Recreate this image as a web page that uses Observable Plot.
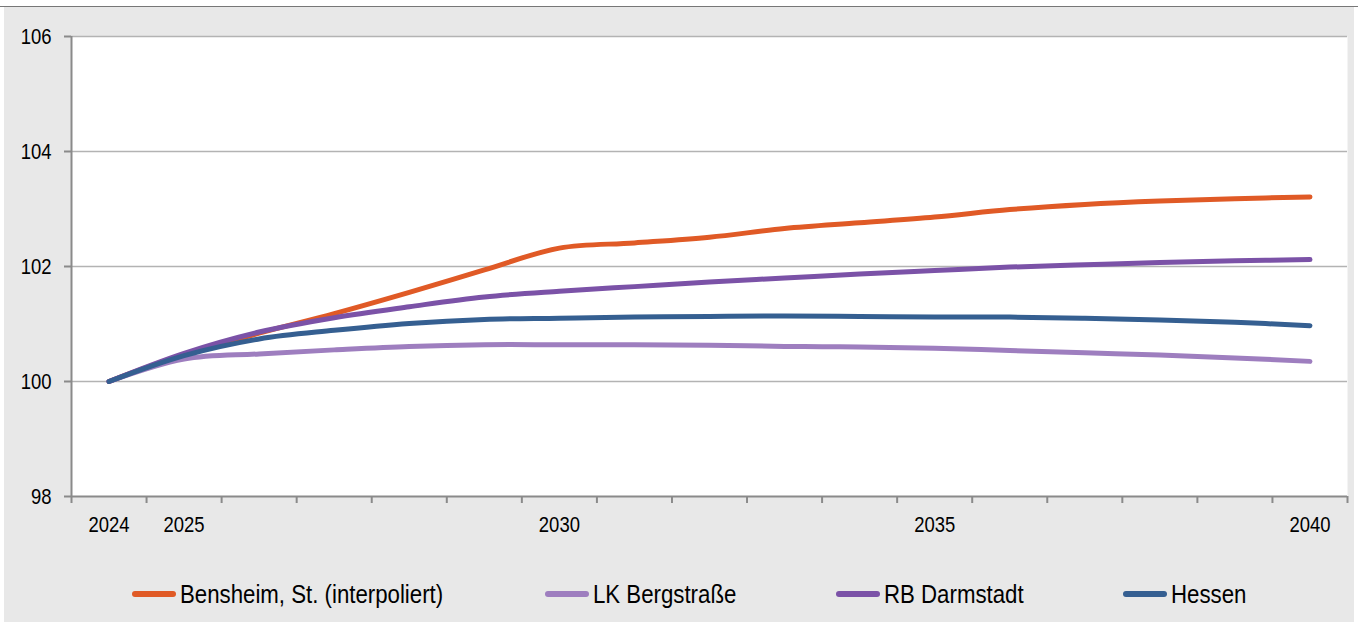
<!DOCTYPE html>
<html>
<head>
<meta charset="utf-8">
<script src="https://cdn.jsdelivr.net/npm/d3@7"></script>
<script src="https://cdn.jsdelivr.net/npm/@observablehq/plot@0.6"></script>
<style>
  html, body { margin: 0; padding: 0; background: #fff; width: 1358px; height: 622px; overflow: hidden;
    font-family: "Liberation Sans", Arial, sans-serif; }
  #topline { position: absolute; left: 0; top: 5.5px; width: 1358px; height: 1.5px; background: #777; }
  #panel { position: absolute; left: 4px; top: 7px; width: 1350px; height: 615px; background: #e8e8e8; }
  #chart { position: absolute; left: 0; top: 0; }
  .item { position: absolute; top: 573.5px; height: 26px; display: flex; align-items: center; white-space: nowrap; }
  .sw { width: 44px; height: 6px; border-radius: 3px; margin-right: 4px; }
  .lb { display: inline-block; font-size: 26px; line-height: 26px; color: #000; transform: scaleX(0.855); transform-origin: left center; }
</style>
</head>
<body>
<div id="topline"></div>
<div id="panel">
  <div id="chart"></div>
  <div id="legend"></div>
</div>
<script>
// ---- data ----
const years = [2024, 2025, 2026, 2027, 2028, 2029, 2030, 2031, 2032, 2033, 2034, 2035, 2036, 2037, 2038, 2039, 2040];
const xTickLabels = [2024, 2025, 2030, 2035, 2040];
const yTicks = [98, 100, 102, 104, 106];
const seriesNames = ["Bensheim, St. (interpoliert)", "LK Bergstraße", "RB Darmstadt", "Hessen"];
const seriesColors = ["#e05a26", "#9e7ebf", "#7b52a7", "#355f91"];
const bensheim      = [100, 100.47, 100.84, 101.18, 101.55, 101.94, 102.32, 102.41, 102.51, 102.66, 102.76, 102.86, 102.99, 103.08, 103.14, 103.18, 103.21];
const lkBergstrasse = [100, 100.39, 100.48, 100.55, 100.61, 100.64, 100.64, 100.64, 100.63, 100.61, 100.60, 100.58, 100.54, 100.50, 100.46, 100.41, 100.35];
const rbDarmstadt   = [100, 100.49, 100.86, 101.11, 101.30, 101.47, 101.57, 101.65, 101.73, 101.80, 101.87, 101.93, 101.99, 102.03, 102.07, 102.10, 102.12];
const hessen        = [100, 100.45, 100.74, 100.89, 101.01, 101.08, 101.10, 101.12, 101.13, 101.14, 101.13, 101.12, 101.12, 101.10, 101.07, 101.03, 100.97];

// ---- build table ----
const seriesValues = [bensheim, lkBergstrasse, rbDarmstadt, hessen];
const rows = [];
seriesNames.forEach((name, i) => {
  years.forEach((yr, j) => rows.push({ series: name, year: yr, value: seriesValues[i][j] }));
});
// category boundaries for tick marks (Excel category axis style)
const boundaries = [years[0] - 0.5, ...years.map(y => y + 0.5)];

const font = "'Liberation Sans', Arial, sans-serif";
const svg = Plot.plot({
  width: 1350,
  height: 553,
  marginLeft: 67,
  marginRight: 7,
  marginTop: 29,
  marginBottom: 64,
  style: { background: "transparent", fontFamily: font, fontSize: "22px", color: "#000", overflow: "visible" },
  x: { domain: [years[0] - 0.5, years[years.length - 1] + 0.5] },
  y: { domain: [yTicks[0], yTicks[yTicks.length - 1]] },
  color: { domain: seriesNames, range: seriesColors },
  marks: [
    Plot.frame({ fill: "white", stroke: null }),
    Plot.gridY(yTicks.slice(1), { stroke: "#b3b3b3", strokeOpacity: 1, strokeWidth: 1.7 }),
    Plot.axisY(yTicks, { tickSize: 7, tickPadding: 13, tickFormat: d => String(d), stroke: "#8a8a8a", strokeWidth: 2, fill: "#000", fontSize: 22, label: null }),
    Plot.axisX(boundaries, { tickSize: 7, tickFormat: () => "", stroke: "#8a8a8a", strokeWidth: 2, label: null }),
    Plot.axisX(xTickLabels, { tickSize: 0, tickPadding: 20, tickFormat: d => String(d), fill: "#000", fontSize: 22, label: null }),
    Plot.ruleX([boundaries[0]], { stroke: "#8a8a8a", strokeWidth: 2 }),
    Plot.ruleY([yTicks[0]], { stroke: "#8a8a8a", strokeWidth: 2 }),
    Plot.line(rows, { x: "year", y: "value", z: "series", stroke: "series", strokeWidth: 5,
      curve: "catmull-rom", strokeLinecap: "round", strokeLinejoin: "round" })
  ]
});

// horizontally condense tick labels like the reference rendering
d3.select(svg).selectAll("text").each(function () {
  const t = this.getAttribute("transform") || "";
  const xa = this.getAttribute("x");
  const x = xa && !isNaN(+xa) ? +xa : 0;
  if (xa && !isNaN(+xa)) this.setAttribute("x", 0);
  this.setAttribute("transform", `${t} translate(${x},0) scale(0.84,1)`);
});

document.getElementById("chart").appendChild(svg);

// ---- legend ----
const legendLeft = [128, 541, 832, 1119];
const legend = document.getElementById("legend");
seriesNames.forEach((name, i) => {
  const item = document.createElement("div");
  item.className = "item";
  item.style.left = legendLeft[i] + "px";
  const sw = document.createElement("span");
  sw.className = "sw";
  sw.style.background = seriesColors[i];
  const lb = document.createElement("span");
  lb.className = "lb";
  lb.textContent = name;
  item.appendChild(sw);
  item.appendChild(lb);
  legend.appendChild(item);
});
</script>
</body>
</html>
